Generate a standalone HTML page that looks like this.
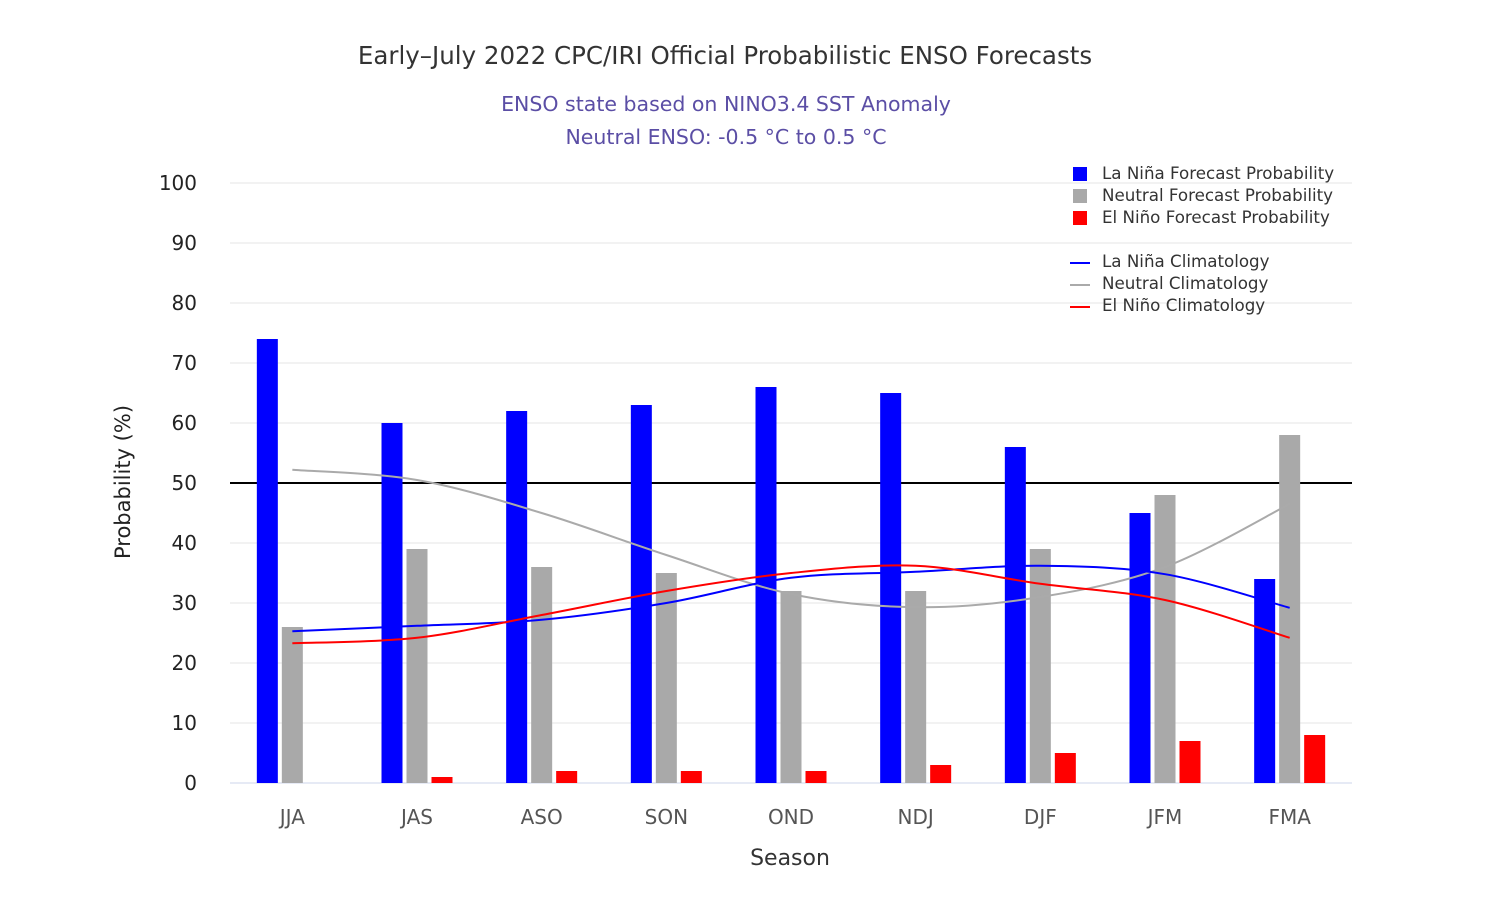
<!DOCTYPE html>
<html><head><meta charset="utf-8"><style>
body{margin:0;background:#fff;}
svg{display:block;font-family:"DejaVu Sans","Liberation Sans",sans-serif;}
</style></head><body>
<svg id="c" width="1512" height="918">
<text x="725" y="64" text-anchor="middle" font-size="24.5" fill="#333">Early–July 2022 CPC/IRI Official Probabilistic ENSO Forecasts</text>
<text x="726" y="111" text-anchor="middle" font-size="20.5" fill="#5b4ea5">ENSO state based on NINO3.4 SST Anomaly</text>
<text x="726" y="144" text-anchor="middle" font-size="20.5" fill="#5b4ea5">Neutral ENSO: -0.5 °C to 0.5 °C</text>
<text transform="translate(130,482) rotate(-90)" text-anchor="middle" font-size="21" fill="#222">Probability (%)</text>
<text x="790" y="865" text-anchor="middle" font-size="22" fill="#333">Season</text>
<g id="grid"></g><g id="bars"></g><g id="lines"></g><g id="xl"></g><g id="legend"></g>
</svg>
<script>
const categories=["JJA","JAS","ASO","SON","OND","NDJ","DJF","JFM","FMA"];
const laNina=[74,60,62,63,66,65,56,45,34];
const neutral=[26,39,36,35,32,32,39,48,58];
const elNino=[0,1,2,2,2,3,5,7,8];
const laNinaClim=[25.3,26.2,27.2,30,34.2,35.2,36.2,34.8,29.2];
const neutralClim=[52.2,50.5,45,38,31.5,29.3,31,36,46.5];
const elNinoClim=[23.3,24.2,28,32,35,36.2,33.2,30.5,24.2];
const yTicks=[0,10,20,30,40,50,60,70,80,90,100];
const NS="http://www.w3.org/2000/svg";
const X0=230,X1=1352,Y0=783,Y1=183;
const bw=(X1-X0)/categories.length;
const y=v=>Y0-(v/100)*(Y0-Y1);
const xc=i=>X0+bw*(i+0.5);
function mk(t,a,p){const e=document.createElementNS(NS,t);for(const k in a)e.setAttribute(k,a[k]);p.appendChild(e);return e;}
const grid=document.getElementById('grid');
yTicks.forEach(t=>{
 const l=mk('line',{x1:X0,x2:X1,y1:y(t),y2:y(t),stroke:t===50?'#000':(t===0?'#ccd6eb':'#e6e6e6'),'stroke-width':t===50?2:1},grid);
 
 
 const tx=mk('text',{x:197,y:y(t)+7,'text-anchor':'end','font-size':20,fill:'#222'},grid);
 tx.textContent=t;
 
 
});
const bars=document.getElementById('bars');
const series=[[laNina,'#0000ff','la-nina'],[neutral,'#a9a9a9','neutral'],[elNino,'#ff0000','el-nino']];
const W=21,G=4;
categories.forEach((c,i)=>{
 series.forEach((s,j)=>{
  const v=s[0][i];const bx=xc(i)+(j-1)*(W+G)-W/2;
  const r=mk('rect',{x:bx,y:y(v),width:W,height:Y0-y(v),fill:s[1]},bars);
  
  
 });
 const t=mk('text',{x:xc(i),y:824,'text-anchor':'middle','font-size':20,fill:'#555'},document.getElementById('xl'));
 t.textContent=c;
 
 
});
function path(vals){
 const p=vals.map((v,i)=>[xc(i),y(v)]);
 let d='M'+p[0][0]+','+p[0][1];
 for(let i=0;i<p.length-1;i++){
  const p0=p[i-1]||p[i],p1=p[i],p2=p[i+1],p3=p[i+2]||p2;
  const c1=[p1[0]+(p2[0]-p0[0])/6,p1[1]+(p2[1]-p0[1])/6];
  const c2=[p2[0]-(p3[0]-p1[0])/6,p2[1]-(p3[1]-p1[1])/6];
  d+=' C'+c1+' '+c2+' '+p2;
 }
 return d;
}
const lines=document.getElementById('lines');
[[neutralClim,'#aaaaaa','neutral'],[laNinaClim,'#0000ff','la-nina'],[elNinoClim,'#ff0000','el-nino']].forEach(s=>{
 const p=mk('path',{d:path(s[0]),fill:'none',stroke:s[1],'stroke-width':2},lines);
 
 
});
const lg=document.getElementById('legend');
const items=[['La Niña Forecast Probability','#0000ff','rect',172],['Neutral Forecast Probability','#a9a9a9','rect',194],['El Niño Forecast Probability','#ff0000','rect',216],['La Niña Climatology','#0000ff','line',260],['Neutral Climatology','#aaaaaa','line',282],['El Niño Climatology','#ff0000','line',304]];
items.forEach(it=>{
 const g=mk('g',{},lg);
 
 
 if(it[2]==='rect')mk('rect',{x:1073,y:it[3]-5,width:14,height:14,fill:it[1]},g);
 else mk('line',{x1:1070,x2:1090,y1:it[3]+3,y2:it[3]+3,stroke:it[1],'stroke-width':2},g);
 const t=mk('text',{x:1102,y:it[3]+7,'font-size':16.7,fill:'#333'},g);
 t.textContent=it[0];
});
</script>
</body></html>
